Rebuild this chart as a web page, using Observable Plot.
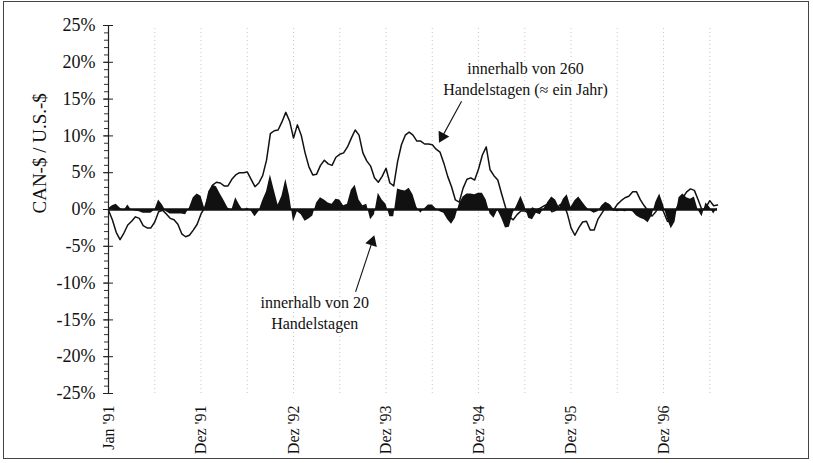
<!DOCTYPE html>
<html>
<head>
<meta charset="utf-8">
<script src="https://cdn.jsdelivr.net/npm/d3@7"></script>
<script src="https://cdn.jsdelivr.net/npm/@observablehq/plot@0.6"></script>
<style>
  html, body { margin: 0; padding: 0; background: #fff; }
  #wrap { position: relative; width: 813px; height: 463px; overflow: hidden; }
  #border { position: absolute; left: 3px; top: 1px; width: 806px; height: 458px;
            border: 1.5px solid #444; pointer-events: none; box-sizing: border-box; }
</style>
</head>
<body>
<div id="wrap"><div id="border"></div></div>
<script>
// Half-monthly samples from Jan '91 (index 0) to mid 1997 (index 158)
// Change of CAN-$ / U.S.-$ within 260 trading days (%)
const change260 = [
  -0.1,-1.4,-3.1,-4.1,-3.2,-2.1,-1.6,-1.0,-1.2,-2.2,-2.5,-2.5,-1.7,-0.3,-0.1,-0.6,-1.2,-1.4,-2.0,-3.3,
  -3.7,-3.5,-2.8,-2.0,-0.6,0.3,1.8,3.3,3.7,3.6,3.2,3.2,4.1,4.7,5.0,5.0,5.1,4.1,3.1,3.6,
  4.6,6.7,10.3,10.7,10.8,11.9,13.2,12.0,9.7,11.5,10.1,7.7,5.8,4.7,4.8,6.0,6.7,6.2,6.0,7.1,
  7.5,7.7,8.5,9.7,10.8,10.1,7.7,6.6,5.9,4.3,3.7,4.5,5.6,3.6,3.2,6.5,8.8,10.1,10.5,10.1,
  9.3,9.3,8.9,8.9,8.8,8.2,7.8,6.3,4.5,3.1,1.3,1.0,2.9,4.1,4.3,4.0,5.5,7.4,8.5,5.4,
  4.6,4.0,2.1,0.3,-1.0,-1.4,-0.7,-0.2,-0.2,-0.5,0.2,-0.1,0.2,0.5,0.7,-0.3,-0.1,0.6,0.9,-0.5,
  -2.5,-3.5,-2.5,-1.7,-1.6,-2.8,-2.8,-1.3,-0.5,0.3,0.6,-0.1,0.7,1.2,1.6,1.8,2.4,2.4,1.3,0.5,
  -0.2,-0.9,-0.3,0.5,-0.3,-1.6,-1.7,-0.3,0.9,1.6,2.4,2.8,2.6,1.3,-0.1,0.3,1.2,0.5,0.6
];
// Change within 20 trading days (%)
const change20 = [
  0.1,0.5,0.7,0.2,-0.2,0.6,-0.1,-0.2,-0.3,-0.5,-0.5,-0.5,-0.1,1.3,0.6,-0.3,-0.6,-0.6,-0.6,-0.6,
  -0.7,0.2,1.6,2.1,1.8,0.1,2.4,3.3,3.1,2.1,1.2,0.2,-0.1,1.6,0.6,-0.2,0.2,-0.2,-1.0,-0.3,
  1.2,2.4,4.7,2.6,0.6,1.8,4.1,1.8,-1.7,-0.3,-0.7,-1.6,-1.3,-0.9,0.9,1.6,1.3,0.9,0.7,1.4,
  1.3,0.5,0.7,2.6,3.3,1.3,0.5,0.7,-1.4,-0.7,2.2,1.3,0.7,-1.0,-1.0,2.8,2.6,2.5,2.9,2.0,
  0.3,-0.5,0.1,0.6,0.6,0.1,-0.3,-0.5,-1.4,-2.0,-1.2,0.7,1.7,2.1,2.1,2.0,2.2,2.2,1.3,-0.6,
  -1.2,-0.1,-1.2,-2.5,-2.4,-0.5,0.6,1.8,0.5,-1.2,-1.4,-0.5,-0.7,0.1,1.0,1.7,1.3,0.2,1.4,2.0,
  0.3,1.2,1.7,1.0,0.3,-0.2,-0.5,-0.3,0.5,1.0,0.7,-0.1,-0.3,-0.2,-0.3,-0.2,-0.3,-0.9,-1.2,-1.4,
  -1.8,-0.9,1.0,2.1,0.6,-1.3,-2.6,-1.7,1.6,2.1,1.6,1.4,1.7,-0.1,-1.0,0.9,0.3,-0.6,0.2
];
const xTickIndex = [0, 24, 48, 72, 96, 120, 144];
const xTickLabels = ["Jan '91", "Dez '91", "Dez '92", "Dez '93", "Dez '94", "Dez '95", "Dez '96"];
const gridIndex = d3.range(12, 159, 12);
const yMajor = d3.range(-25, 26, 5);
const yMinor = d3.range(-25, 26, 1);
const yLabel = "CAN-$ / U.S.-$";
const notes = [
  {x: 108.2, y: 17.9, text: "innerhalb von 260\nHandelstagen (≈ ein Jahr)"},
  {x: 53.5, y: -13.9, text: "innerhalb von 20\nHandelstagen"}
];
const arrows = [
  {x1: 91.6, y1: 14.7, x2: 86.6, y2: 9.9, rot: 208},
  {x1: 64.1, y1: -11.2, x2: 68.4, y2: -4.4, rot: 18}
];

const serif = "'Liberation Serif', 'Times New Roman', 'DejaVu Serif', serif";

const chart = Plot.plot({
  width: 813,
  height: 463,
  marginLeft: 108,
  marginRight: 96,
  marginTop: 25,
  marginBottom: 70,
  x: {domain: [0, 158]},
  y: {domain: [-25, 25]},
  style: {fontFamily: serif, background: "transparent", color: "#111"},
  marks: [
    Plot.ruleX(gridIndex, {y1: -25, y2: 25, stroke: "#999", strokeDasharray: "1,3", strokeWidth: 1, strokeOpacity: 0.55}),
    Plot.areaY(change20, {fill: "#111"}),
    Plot.lineY(change260, {stroke: "#111", strokeWidth: 1.5}),
    Plot.ruleY([0], {x1: 0, x2: 158, stroke: "#111", strokeWidth: 2.5}),
    Plot.ruleX([0], {y1: -25, y2: 25, stroke: "#222", strokeWidth: 1.2}),
    Plot.axisY(yMinor, {tickSize: 4, tickFormat: () => "", label: null, stroke: "#333"}),
    Plot.axisY(yMajor, {tickSize: 10, dx: 5, tickFormat: () => "", label: null, stroke: "#222"}),
    Plot.axisY(yMajor, {tickSize: 0, tickPadding: 13, tickFormat: d => d + "%", label: null, fontSize: 18}),
    Plot.axisX(xTickIndex, {tickSize: 0, tickPadding: 12, tickRotate: -90, fontSize: 16, label: null,
      tickFormat: d => xTickLabels[xTickIndex.indexOf(d)]}),
    Plot.text([yLabel], {frameAnchor: "left", rotate: -90, dx: -69, dy: 4, fontSize: 19, fill: "#111"}),
    Plot.link(arrows, {x1: "x1", y1: "y1", x2: "x2", y2: "y2", stroke: "#111", strokeWidth: 1.1}),
    Plot.dot(arrows, {x: "x2", y: "y2", symbol: "triangle", r: 4.5, rotate: "rot", fill: "#111", stroke: "none"}),
    Plot.text(notes, {x: "x", y: "y", text: "text", fontSize: 16, lineHeight: 1.3, fill: "#111", stroke: "white", strokeWidth: 3})
  ]
});
document.getElementById("wrap").prepend(chart);
</script>
</body>
</html>
